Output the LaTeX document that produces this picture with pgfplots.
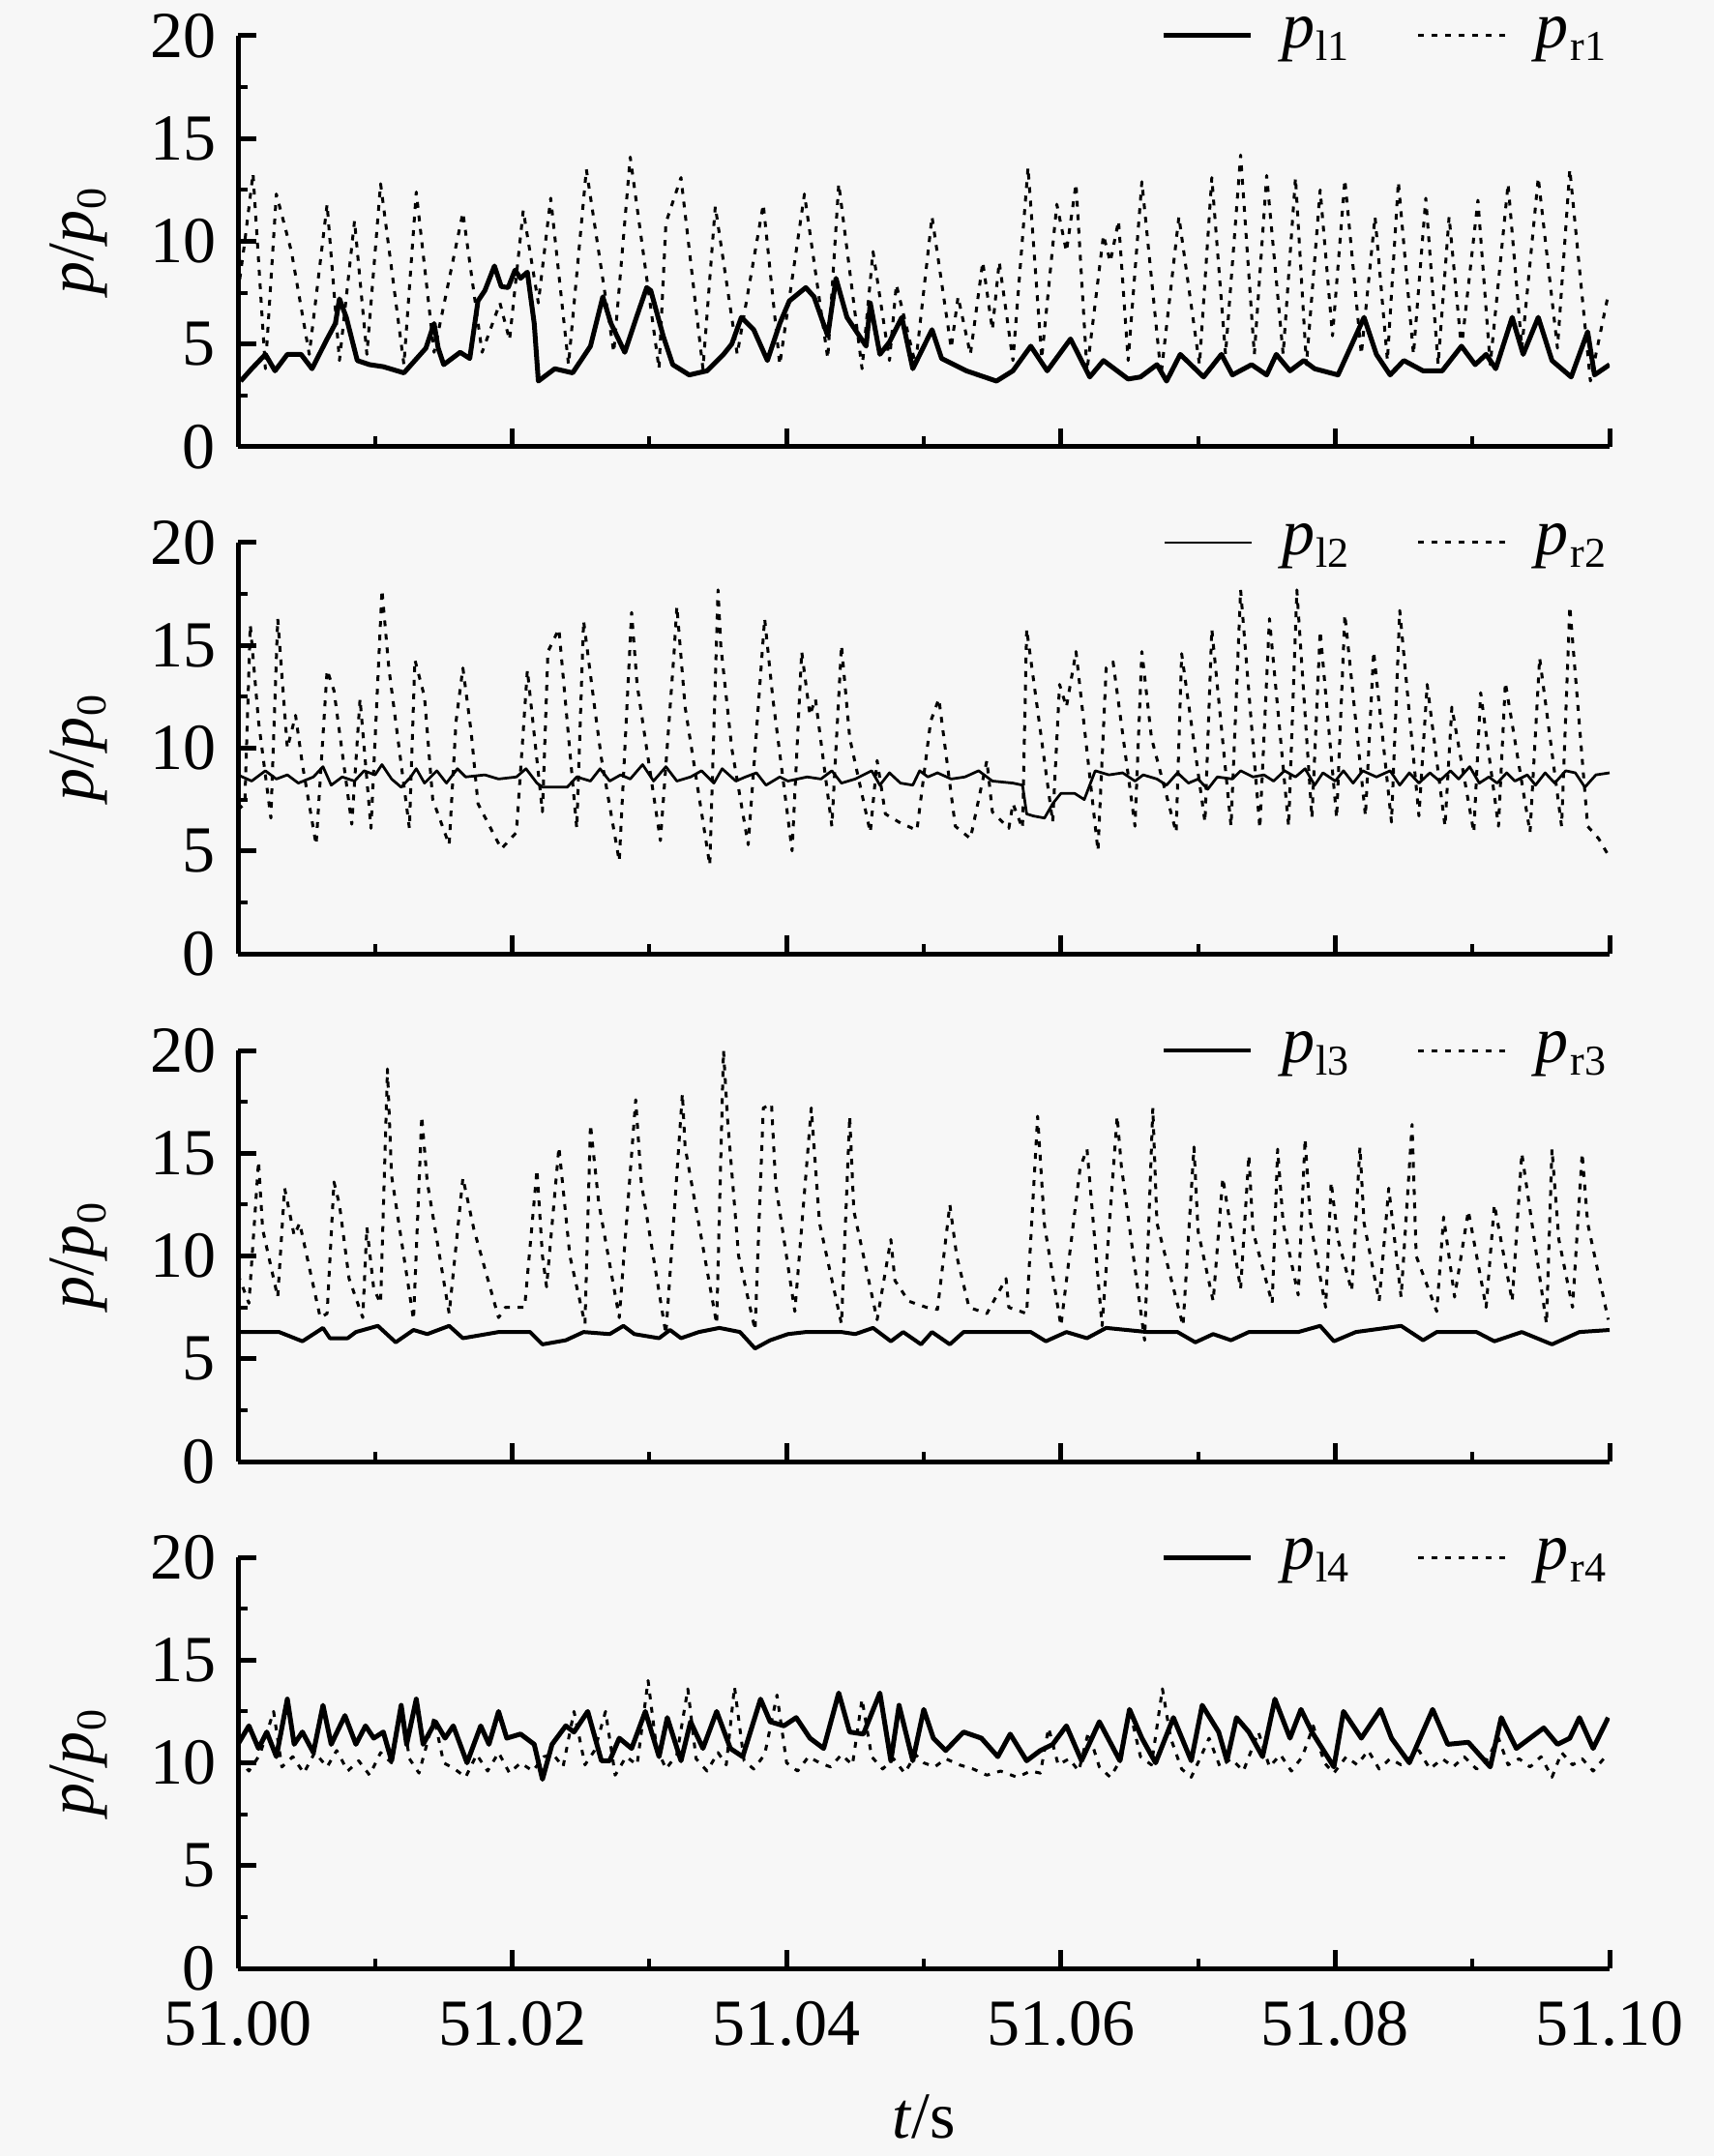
\documentclass[border=0pt]{standalone}
\usepackage{pgfplots}
\pgfplotsset{compat=1.18}
\usepackage{pgfplotstable}
\usepackage{fontspec}
\setmainfont{Liberation Serif}
\definecolor{bg}{RGB}{247,247,247}
\newcommand{\pp}[1]{\textit{p}\kern0.3pt\raisebox{-0.2em}{\fontsize{8.8}{10}\selectfont #1}}

\pgfplotstableread{
t v
51.0002 3.2
51.0010 3.8
51.0020 4.5
51.0027 3.7
51.0036 4.5
51.0046 4.5
51.0054 3.8
51.0065 5.25
51.0071 6.0
51.0074 7.2
51.0079 6.3
51.0087 4.2
51.0096 4.0
51.0106 3.9
51.0121 3.6
51.0137 4.8
51.0143 6.0
51.0146 4.8
51.0150 4.0
51.0162 4.6
51.0169 4.3
51.0175 7.1
51.0180 7.6
51.0187 8.8
51.0192 7.8
51.0197 7.75
51.0202 8.6
51.0206 8.2
51.0211 8.5
51.0216 6.0
51.0219 3.2
51.0231 3.8
51.0244 3.6
51.0257 4.9
51.0266 7.3
51.0272 6.0
51.0282 4.6
51.0290 6.2
51.0298 7.75
51.0301 7.6
51.0310 5.4
51.0317 4.0
51.0329 3.5
51.0342 3.7
51.0354 4.5
51.0360 5.0
51.0367 6.3
51.0376 5.7
51.0386 4.2
51.0395 6.0
51.0402 7.1
51.0414 7.75
51.0420 7.3
51.0430 5.4
51.0436 8.2
51.0444 6.3
51.0458 4.9
51.0461 7.0
51.0468 4.5
51.0475 5.1
51.0484 6.3
51.0492 3.8
51.0506 5.7
51.0513 4.3
51.0531 3.7
51.0553 3.2
51.0565 3.7
51.0578 4.9
51.0590 3.7
51.0607 5.25
51.0621 3.4
51.0631 4.2
51.0649 3.3
51.0658 3.4
51.0670 4.0
51.0677 3.2
51.0687 4.5
51.0704 3.4
51.0717 4.5
51.0725 3.5
51.0739 4.0
51.0750 3.5
51.0757 4.5
51.0767 3.7
51.0777 4.2
51.0785 3.8
51.0802 3.5
51.0821 6.3
51.0830 4.5
51.0840 3.5
51.0850 4.2
51.0864 3.7
51.0878 3.7
51.0892 4.9
51.0902 4.0
51.0910 4.5
51.0917 3.8
51.0929 6.3
51.0937 4.5
51.0948 6.3
51.0958 4.2
51.0972 3.4
51.0984 5.6
51.0989 3.5
51.1000 4.0
}\plA
\pgfplotstableread{
t v
51.0000 7.5
51.0005 10.0
51.0011 13.3
51.0020 3.8
51.0028 12.3
51.0039 9.5
51.0052 4.5
51.0065 11.8
51.0074 4.2
51.0085 11.0
51.0094 4.5
51.0104 12.8
51.0121 4.0
51.0130 12.4
51.0143 4.6
51.0164 11.4
51.0178 4.6
51.0191 7.0
51.0198 5.2
51.0208 11.5
51.0219 7.0
51.0228 12.1
51.0241 4.0
51.0254 13.5
51.0274 4.6
51.0286 14.1
51.0307 3.8
51.0312 10.9
51.0323 13.1
51.0339 3.8
51.0348 11.7
51.0364 4.5
51.0383 11.8
51.0395 4.0
51.0413 12.3
51.0430 4.3
51.0438 12.8
51.0455 3.8
51.0463 9.5
51.0475 4.2
51.0480 7.9
51.0494 4.0
51.0506 11.2
51.0520 4.8
51.0525 7.3
51.0534 4.5
51.0543 9.0
51.0550 5.7
51.0555 9.0
51.0565 4.2
51.0576 13.6
51.0586 4.3
51.0597 11.8
51.0604 9.5
51.0611 12.8
51.0619 3.7
51.0631 10.3
51.0636 9.0
51.0642 11.0
51.0649 4.2
51.0659 12.9
51.0673 3.5
51.0686 11.2
51.0701 4.0
51.0710 13.1
51.0720 4.5
51.0731 14.2
51.0741 4.5
51.0750 13.2
51.0762 4.5
51.0771 13.1
51.0779 4.0
51.0789 12.5
51.0798 5.4
51.0807 13.0
51.0819 4.5
51.0829 11.2
51.0838 4.2
51.0846 12.9
51.0857 4.5
51.0866 12.1
51.0875 4.0
51.0883 11.2
51.0892 4.8
51.0904 12.0
51.0913 4.0
51.0926 12.8
51.0936 4.8
51.0948 13.1
51.0962 4.8
51.0971 13.5
51.0986 3.2
51.0999 7.4
}\prA
\pgfplotstableread{
t v
51.0000 8.7
51.0010 8.4
51.0020 8.9
51.0028 8.5
51.0036 8.7
51.0044 8.3
51.0055 8.6
51.0062 9.1
51.0068 8.2
51.0076 8.6
51.0085 8.4
51.0092 8.9
51.0100 8.7
51.0105 9.2
51.0112 8.5
51.0119 8.1
51.0126 8.6
51.0130 9.0
51.0136 8.3
51.0145 8.9
51.0152 8.3
51.0160 9.0
51.0166 8.6
51.0180 8.7
51.0190 8.5
51.0203 8.6
51.0210 9.0
51.0218 8.3
51.0222 8.1
51.0240 8.1
51.0247 8.6
51.0257 8.4
51.0264 9.0
51.0271 8.4
51.0279 8.7
51.0286 8.5
51.0295 9.2
51.0303 8.4
51.0312 9.1
51.0320 8.4
51.0330 8.6
51.0338 8.9
51.0347 8.3
51.0353 9.0
51.0363 8.4
51.0370 8.6
51.0378 8.8
51.0385 8.2
51.0395 8.6
51.0401 8.4
51.0415 8.6
51.0425 8.5
51.0433 8.9
51.0440 8.3
51.0450 8.5
51.0462 8.9
51.0468 8.2
51.0475 8.8
51.0483 8.3
51.0492 8.2
51.0497 8.9
51.0503 8.6
51.0510 8.8
51.0520 8.5
51.0530 8.6
51.0540 8.9
51.0550 8.4
51.0565 8.3
51.0572 8.2
51.0575 6.8
51.0580 6.7
51.0588 6.6
51.0594 7.3
51.0600 7.8
51.0610 7.8
51.0617 7.5
51.0625 8.9
51.0635 8.7
51.0645 8.8
51.0654 8.4
51.0660 8.7
51.0670 8.5
51.0677 8.2
51.0685 8.8
51.0693 8.3
51.0700 8.5
51.0707 8.0
51.0714 8.6
51.0725 8.5
51.0731 8.9
51.0740 8.6
51.0748 8.7
51.0755 8.4
51.0763 8.9
51.0771 8.6
51.0778 9.0
51.0785 8.2
51.0791 8.8
51.0800 8.4
51.0806 8.9
51.0813 8.3
51.0820 8.9
51.0830 8.6
51.0840 8.9
51.0847 8.2
51.0854 8.8
51.0861 8.3
51.0869 8.8
51.0876 8.4
51.0884 8.9
51.0890 8.5
51.0898 9.1
51.0905 8.3
51.0912 8.6
51.0918 8.3
51.0925 8.8
51.0931 8.4
51.0940 8.7
51.0946 8.2
51.0953 8.8
51.0960 8.3
51.0968 8.9
51.0975 8.8
51.0982 8.1
51.0990 8.7
51.1000 8.8
}\plB
\pgfplotstableread{
t v
51.0000 7.0
51.0005 7.3
51.0009 16.0
51.0015 11.3
51.0024 6.6
51.0029 16.3
51.0036 10.0
51.0042 11.6
51.0047 9.2
51.0057 5.3
51.0065 13.8
51.0070 12.8
51.0083 6.3
51.0089 12.4
51.0097 6.1
51.0105 17.7
51.0110 13.9
51.0125 6.1
51.0129 14.3
51.0136 12.5
51.0142 7.5
51.0154 5.3
51.0159 11.3
51.0164 13.9
51.0170 10.8
51.0175 7.3
51.0192 5.1
51.0203 5.9
51.0211 13.8
51.0222 6.9
51.0226 14.7
51.0234 15.8
51.0247 6.1
51.0252 16.2
51.0260 12.0
51.0265 9.5
51.0278 4.5
51.0287 16.6
51.0291 13.1
51.0308 5.5
51.0318 14.7
51.0320 16.9
51.0326 12.0
51.0344 4.3
51.0350 17.7
51.0352 15.0
51.0360 10.0
51.0372 5.3
51.0384 16.3
51.0390 12.4
51.0404 5.0
51.0411 14.7
51.0417 11.6
51.0421 12.4
51.0433 6.2
51.0440 15.0
51.0446 10.5
51.0461 5.9
51.0466 9.4
51.0472 6.8
51.0482 6.4
51.0495 6.0
51.0505 11.3
51.0511 12.4
51.0523 6.2
51.0534 5.6
51.0546 9.4
51.0550 6.9
51.0562 6.1
51.0565 7.3
51.0572 6.1
51.0575 15.8
51.0594 6.4
51.0599 13.1
51.0604 12.0
51.0611 14.7
51.0627 5.0
51.0633 13.9
51.0638 14.2
51.0654 6.2
51.0659 14.7
51.0666 10.5
51.0684 5.9
51.0688 14.6
51.0705 6.4
51.0710 15.8
51.0724 6.2
51.0731 17.7
51.0745 6.1
51.0752 16.3
51.0766 6.2
51.0772 17.7
51.0783 6.6
51.0789 15.7
51.0801 6.6
51.0807 16.5
51.0822 6.7
51.0828 14.7
51.0841 6.4
51.0847 16.7
51.0861 6.7
51.0867 13.1
51.0880 6.2
51.0885 12.0
51.0901 5.9
51.0906 12.7
51.0919 6.2
51.0924 13.2
51.0942 5.9
51.0949 14.4
51.0965 6.2
51.0971 16.9
51.0984 6.2
51.0992 5.6
51.0999 4.8
}\prB
\pgfplotstableread{
t v
51.0000 6.3
51.0030 6.3
51.0047 5.85
51.0062 6.5
51.0067 6.0
51.0080 6.0
51.0086 6.3
51.0102 6.6
51.0115 5.8
51.0128 6.4
51.0138 6.2
51.0154 6.6
51.0164 6.0
51.0190 6.3
51.0213 6.3
51.0222 5.7
51.0239 5.9
51.0252 6.3
51.0271 6.2
51.0281 6.6
51.0289 6.2
51.0307 6.0
51.0315 6.4
51.0323 6.0
51.0336 6.3
51.0351 6.5
51.0366 6.3
51.0377 5.5
51.0388 5.9
51.0401 6.2
51.0414 6.3
51.0440 6.3
51.0450 6.2
51.0463 6.5
51.0476 5.85
51.0485 6.3
51.0498 5.7
51.0506 6.3
51.0519 5.7
51.0529 6.3
51.0578 6.3
51.0589 5.85
51.0604 6.3
51.0619 6.0
51.0633 6.5
51.0663 6.3
51.0685 6.3
51.0698 5.8
51.0711 6.2
51.0724 5.9
51.0737 6.3
51.0773 6.3
51.0789 6.6
51.0799 5.85
51.0815 6.3
51.0848 6.6
51.0864 5.9
51.0874 6.3
51.0903 6.3
51.0916 5.85
51.0936 6.3
51.0958 5.7
51.0978 6.3
51.1000 6.4
}\plC
\pgfplotstableread{
t v
51.0000 9.1
51.0008 7.7
51.0015 14.6
51.0018 11.3
51.0029 8.0
51.0034 13.3
51.0041 11.0
51.0045 11.6
51.0060 7.0
51.0065 7.2
51.0070 13.6
51.0074 12.5
51.0081 8.9
51.0091 7.0
51.0094 11.4
51.0099 8.4
51.0104 7.7
51.0109 19.1
51.0112 13.9
51.0128 6.9
51.0134 16.8
51.0138 13.6
51.0154 7.2
51.0164 13.8
51.0172 11.3
51.0190 7.0
51.0195 7.5
51.0209 7.5
51.0218 14.2
51.0222 10.0
51.0225 8.5
51.0234 15.3
51.0242 10.0
51.0253 6.7
51.0257 16.4
51.0263 12.6
51.0278 7.0
51.0290 17.6
51.0294 13.6
51.0312 6.2
51.0324 17.9
51.0326 15.3
51.0349 6.7
51.0354 20.0
51.0357 16.6
51.0365 10.0
51.0377 6.4
51.0383 17.2
51.0389 17.4
51.0392 13.5
51.0406 7.3
51.0418 17.2
51.0424 11.6
51.0440 6.7
51.0446 16.8
51.0449 12.2
51.0466 6.9
51.0476 10.8
51.0479 8.8
51.0489 7.8
51.0502 7.5
51.0510 7.4
51.0519 12.5
51.0524 10.0
51.0533 7.5
51.0546 7.2
51.0560 8.9
51.0562 7.5
51.0575 7.2
51.0583 16.8
51.0588 11.5
51.0600 6.6
51.0614 14.3
51.0619 15.2
51.0630 6.6
51.0641 16.8
51.0644 14.4
51.0661 5.9
51.0667 17.2
51.0670 11.6
51.0689 6.6
51.0697 15.3
51.0700 11.2
51.0711 7.8
51.0718 13.8
51.0731 8.4
51.0737 14.9
51.0740 11.2
51.0754 7.7
51.0758 15.2
51.0762 11.6
51.0773 8.1
51.0778 15.7
51.0782 11.6
51.0793 7.5
51.0797 13.6
51.0802 10.8
51.0812 8.3
51.0818 15.3
51.0821 11.6
51.0832 7.8
51.0839 13.3
51.0848 8.0
51.0856 16.4
51.0859 10.0
51.0874 7.3
51.0879 11.9
51.0887 8.0
51.0897 12.2
51.0910 7.5
51.0916 12.5
51.0929 7.8
51.0936 15.0
51.0954 6.7
51.0958 15.2
51.0963 10.8
51.0973 7.5
51.0980 15.0
51.0984 11.6
51.0999 6.9
}\prC
\pgfplotstableread{
t v
51.0000 10.9
51.0008 11.8
51.0015 10.7
51.0021 11.5
51.0028 10.3
51.0036 13.1
51.0041 10.9
51.0047 11.5
51.0055 10.5
51.0062 12.8
51.0068 10.9
51.0078 12.3
51.0086 10.9
51.0093 11.8
51.0099 11.2
51.0106 11.5
51.0112 10.1
51.0119 12.8
51.0123 10.9
51.0130 13.1
51.0135 10.9
51.0144 12.0
51.0151 11.2
51.0157 11.8
51.0167 10.0
51.0177 11.8
51.0183 10.9
51.0190 12.5
51.0196 11.2
51.0206 11.4
51.0216 10.9
51.0222 9.2
51.0229 10.9
51.0239 11.8
51.0245 11.5
51.0255 12.5
51.0265 10.1
51.0271 10.1
51.0278 11.2
51.0287 10.7
51.0297 12.5
51.0307 10.3
51.0313 12.2
51.0323 10.1
51.0330 12.0
51.0339 10.7
51.0349 12.5
51.0359 10.7
51.0368 10.3
51.0381 13.1
51.0388 12.0
51.0398 11.8
51.0407 12.2
51.0417 11.2
51.0427 10.7
51.0438 13.4
51.0446 11.5
51.0456 11.4
51.0468 13.4
51.0476 10.1
51.0482 12.8
51.0492 10.1
51.0500 12.6
51.0507 11.2
51.0516 10.6
51.0529 11.5
51.0542 11.2
51.0554 10.3
51.0563 11.4
51.0575 10.1
51.0585 10.6
51.0594 10.9
51.0604 11.8
51.0615 10.1
51.0628 12.0
51.0643 10.1
51.0650 12.6
51.0659 11.2
51.0669 10.0
51.0682 12.2
51.0695 10.1
51.0703 12.8
51.0715 11.5
51.0721 10.1
51.0728 12.2
51.0737 11.5
51.0747 10.3
51.0756 13.1
51.0767 11.2
51.0775 12.6
51.0783 11.5
51.0799 9.8
51.0806 12.5
51.0819 11.2
51.0833 12.6
51.0841 11.2
51.0854 10.0
51.0871 12.6
51.0882 10.9
51.0897 11.0
51.0913 9.8
51.0921 12.2
51.0932 10.7
51.0942 11.2
51.0952 11.7
51.0962 10.9
51.0971 11.2
51.0978 12.2
51.0988 10.7
51.0999 12.2
}\plD
\pgfplotstableread{
t v
51.0000 10.2
51.0008 9.6
51.0016 10.4
51.0026 12.5
51.0032 9.8
51.0040 10.3
51.0048 9.5
51.0056 10.5
51.0065 9.8
51.0072 10.6
51.0080 9.6
51.0088 10.1
51.0096 9.4
51.0104 10.5
51.0112 10.0
51.0119 12.9
51.0125 10.2
51.0132 9.5
51.0143 12.2
51.0150 10.0
51.0158 9.7
51.0166 9.3
51.0174 10.4
51.0182 9.6
51.0190 10.5
51.0198 9.5
51.0206 10.0
51.0215 9.6
51.0223 10.3
51.0230 10.4
51.0237 9.8
51.0245 12.5
51.0253 9.9
51.0260 10.6
51.0268 12.5
51.0275 9.4
51.0283 10.3
51.0291 9.9
51.0299 14.0
51.0305 10.8
51.0312 9.7
51.0320 10.4
51.0328 13.6
51.0334 10.2
51.0342 9.6
51.0350 10.5
51.0356 9.9
51.0362 13.7
51.0369 10.1
51.0376 9.7
51.0384 10.4
51.0393 13.3
51.0400 10.0
51.0408 9.6
51.0416 10.3
51.0424 10.0
51.0432 9.8
51.0440 10.4
51.0448 9.9
51.0455 13.1
51.0462 10.3
51.0470 9.7
51.0478 10.2
51.0486 9.5
51.0494 10.4
51.0500 10.0
51.0508 9.8
51.0516 10.2
51.0526 9.9
51.0536 9.7
51.0546 9.4
51.0556 9.6
51.0568 9.3
51.0578 9.6
51.0585 9.5
51.0591 11.7
51.0598 9.9
51.0606 10.2
51.0613 9.6
51.0620 11.5
51.0628 9.8
51.0636 9.3
51.0644 10.2
51.0650 12.6
51.0658 10.3
51.0666 9.9
51.0674 13.6
51.0680 11.2
51.0688 9.7
51.0695 9.3
51.0702 10.3
51.0708 11.2
51.0716 9.8
51.0724 10.2
51.0733 9.6
51.0744 11.5
51.0752 9.8
51.0760 10.4
51.0768 9.6
51.0776 10.3
51.0784 11.8
51.0792 10.0
51.0799 9.5
51.0808 10.3
51.0816 9.9
51.0824 10.6
51.0832 9.7
51.0840 10.2
51.0848 9.9
51.0861 10.6
51.0869 9.7
51.0878 10.2
51.0886 9.8
51.0894 10.3
51.0903 9.7
51.0910 10.1
51.0919 11.2
51.0926 9.9
51.0934 10.2
51.0942 9.8
51.0950 10.3
51.0958 9.3
51.0965 10.5
51.0973 9.9
51.0980 10.2
51.0988 9.6
51.0997 10.3
}\prD

\pgfplotsset{
  panel/.style={
    scale only axis, width=283.6pt, height=85pt,
    xmin=51, xmax=51.1, ymin=0, ymax=20,
    axis lines=left, axis line style={-, line width=1pt, black},
    xtick={51,51.02,51.04,51.06,51.08,51.1},
    minor xtick={51.01,51.03,51.05,51.07,51.09},
    ytick={0,5,10,15,20},
    minor ytick={2.5,7.5,12.5,17.5},
    tick align=inside,
    major tick length=3.8pt, minor tick length=2.1pt,
    every major tick/.append style={black, line width=1pt},
    every minor tick/.append style={black, line width=0.8pt},
    font=\fontsize{13.6}{16}\selectfont,
    /pgf/number format/assume math mode=true,
    xticklabel style={inner sep=0pt, yshift=-6.7pt},
    yticklabel style={inner sep=0pt, xshift=-4.4pt},
    ylabel={\textit{p}/\textit{p}\kern0.3pt\raisebox{-0.2em}{\fontsize{8.8}{10}\selectfont 0}},
    ylabel style={at={(axis description cs:-0.1164,0.5)}, anchor=center},
    legend style={at={(axis description cs:1.005,1.0)}, anchor=east, draw=none, fill=none,
      legend columns=2, inner sep=0pt, font=\fontsize{13.6}{16}\selectfont,
      nodes={inner sep=2pt, anchor=west},
      /tikz/every odd column/.append style={column sep=4pt},
      /tikz/every even column/.append style={column sep=12pt}},
    legend cell align=left,
    legend image code/.code={\draw[##1] (0pt,0pt) -- (18pt,0pt);},
  },
  solidline/.style={black, line width=#1, line join=round},
  dotline/.style={black, line width=0.6pt, dash pattern=on 1.2pt off 1.6pt, line join=round},
}

\begin{document}
\begin{tikzpicture}
\path[use as bounding box, fill=bg] (0,0) rectangle (354.4pt,-445.8pt);

\begin{axis}[panel, at={(49.2pt,-92.4pt)}, anchor=south west, xticklabels={}]
\addplot[solidline=1pt] table[x=t,y=v] {\plA};
\addlegendentry{\pp{l1}}
\addplot[dotline] table[x=t,y=v] {\prA};
\addlegendentry{\pp{r1}}
\end{axis}

\begin{axis}[panel, at={(49.2pt,-197.2pt)}, anchor=south west, xticklabels={}]
\addplot[solidline=0.55pt] table[x=t,y=v] {\plB};
\addlegendentry{\pp{l2}}
\addplot[dotline] table[x=t,y=v] {\prB};
\addlegendentry{\pp{r2}}
\end{axis}

\begin{axis}[panel, at={(49.2pt,-302.2pt)}, anchor=south west, xticklabels={}]
\addplot[solidline=0.8pt] table[x=t,y=v] {\plC};
\addlegendentry{\pp{l3}}
\addplot[dotline] table[x=t,y=v] {\prC};
\addlegendentry{\pp{r3}}
\end{axis}

\begin{axis}[panel, at={(49.2pt,-407pt)}, anchor=south west,
  xticklabels={51.00,51.02,51.04,51.06,51.08,51.10},
  xlabel={\textit{t}/s},
  xlabel style={at={(axis description cs:0.5,-0.36)}, anchor=center}]
\addplot[solidline=1pt] table[x=t,y=v] {\plD};
\addlegendentry{\pp{l4}}
\addplot[dotline] table[x=t,y=v] {\prD};
\addlegendentry{\pp{r4}}
\end{axis}
\end{tikzpicture}
\end{document}
